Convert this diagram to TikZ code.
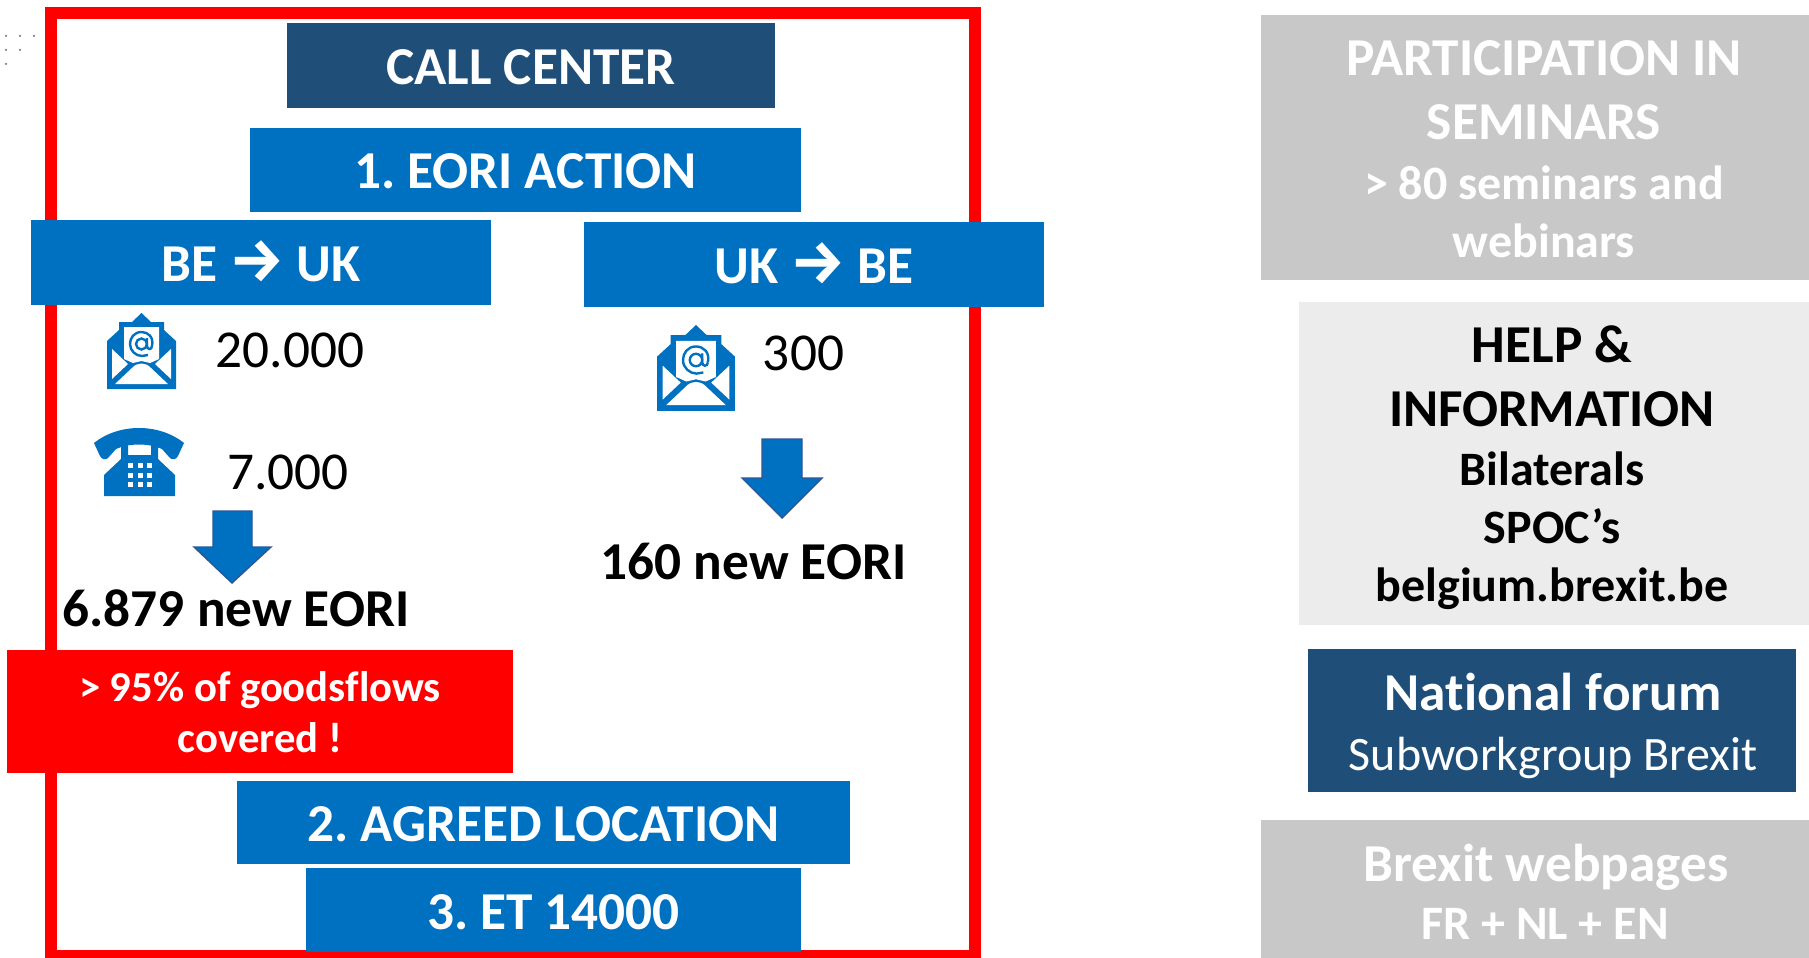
\documentclass[tikz,border=0pt]{standalone}
\usepackage{fontspec}
\setmainfont[Ligatures=NoCommon]{Carlito}
\newfontfamily\arrowfont{Fira Sans}
\definecolor{navy}{HTML}{1F4E79}
\definecolor{blue}{HTML}{0070C0}
\definecolor{gry}{HTML}{C8C8C8}
\definecolor{lgry}{HTML}{ECECEC}
\definecolor{arrowedge}{HTML}{2F5597}
\frenchspacing
\tikzset{
 box/.style={inner sep=0pt,outer sep=0pt,align=center,text=white,font=\bfseries\fontsize{53.3}{64}\selectfont},
 bigarrow/.style={fill=blue,draw=arrowedge,line width=1.4pt,line join=miter},
 num/.style={inner sep=0pt,text=black,font=\fontsize{53.3}{64}\selectfont},
 res/.style={inner sep=0pt,text=black,font=\bfseries\fontsize{53.3}{64}\selectfont},
 tdot/.style={fill=gray,circle,inner sep=0pt,minimum size=2.5pt},
}
\newcommand{\pbox}[8]{%
 \path[fill=#6] (#2,#3) rectangle (#4,#5);
 \node[box] (#1) at ({(#2+#4)/2},{(#3+#5)/2+#8}) {#7};}
\newcommand{\arr}{{\arrowfont\bfseries\fontsize{61.5}{60}\selectfont→}}
\newcommand{\mailicon}[3]{%
 \begin{scope}[shift={(#1,#2)},scale=#3]
  \fill[blue] (0,28)--(12,17)--(12,9)--(25,9)--(34.5,0)--(44,9)--(57,9)--(57,17)--(69,28)--(69,76)--(0,76)--cycle;
  \fill[white] (17,14)--(52,14)--(52,46)--(43,50)--(34.5,48)--(26,50)--(17,46)--cycle;
  \fill[white] (5,36)--(21,51)--(5,66)--cycle;
  \fill[white] (64,36)--(48,51)--(64,66)--cycle;
  \fill[white] (8,71)--(25,55) .. controls (30,49) and (39,49) .. (44,55)--(61,71)--cycle;
  \draw[blue,line width=2.4pt] (45,33) .. controls (47,24) and (41,19) .. (34.5,19) .. controls (27,19) and (23,25) .. (23,31) .. controls (23,38) and (29,43) .. (35,43) -- (41,42);
  \draw[blue,line width=2.4pt] (34.5,31) circle (5.5);
  \draw[blue,line width=2.4pt] (40,25)--(40,33) .. controls (40,37) and (45,37) .. (45,33);
 \end{scope}}
\begin{document}
\begin{tikzpicture}[x=1pt,y=-1pt]
\useasboundingbox (0,0) rectangle (1809,958);
\fill[white] (0,0) rectangle (1809,958);
\foreach \p in {(6,36),(20,36),(34,36),(6,50),(20,50),(6,64)} \node[tdot] at \p {};
\draw[red,line width=12pt] (51,13) rectangle (975,956);
\pbox{cc}{287}{23}{775}{108}{navy}{CALL CENTER}{1.5}
\pbox{eori}{250}{128}{801}{212}{blue}{1. EORI ACTION}{1.5}
\pbox{beuk}{31}{220}{491}{305}{blue}{BE \arr{} UK}{-1.5}
\pbox{ukbe}{584}{222}{1044}{307}{blue}{UK \arr{} BE}{-1.5}
\mailicon{107}{313}{1}
\mailicon{657}{325}{1.13}
\node[num,anchor=base] (n1) at (290,367) {20.000};
\node[num,anchor=base] (n2) at (288,489) {7.000};
\node[num,anchor=base] (n3) at (803.5,370) {300};
\begin{scope}[shift={(94,429)}]
 \fill[blue] (0,14) .. controls (25,-6) and (65,-6) .. (90,14) -- (84,27) .. controls (82,31) and (78,31) .. (76,29) -- (68,20) .. controls (55,14) and (35,14) .. (22,20) -- (14,29) .. controls (12,31) and (8,31) .. (6,27) -- cycle;
 \fill[blue] (10,67) -- (10,46) -- (27,30) -- (27,17) .. controls (27,12) and (34,12) .. (34,17) -- (34,26) -- (57,26) -- (57,17) .. controls (57,12) and (64,12) .. (64,17) -- (64,30) -- (81,46) -- (81,67) -- cycle;
 \foreach \i in {0,1,2} \foreach \j in {0,1,2}
  \fill[white] ({34+\i*9.5},{34+\j*9.5}) rectangle ++(5,5);
\end{scope}
\draw[bigarrow] (213,511)--(252,511)--(252,547)--(271,547)--(232,583)--(194,547)--(213,547)--cycle;
\draw[bigarrow] (762,439)--(802,439)--(802,478)--(822,478)--(782,518)--(742,478)--(762,478)--cycle;
\node[res,anchor=base] (r1) at (236,626) {6.879 new EORI};
\node[res,anchor=base] (r2) at (753.5,579) {160 new EORI};
\path[fill=red] (7,650) rectangle (513,773);
\node[box,font=\bfseries\fontsize{42.7}{51}\selectfont] (cov) at (260,712) {> 95\% of goodsflows\\covered !};
\pbox{loc}{237}{781}{850}{864}{blue}{2. AGREED LOCATION}{2}
\pbox{et}{306}{868}{801}{952}{blue}{3. ET 14000}{2}
\path[fill=gry] (1261,15) rectangle (1809,280);
\node[box,font=\bfseries\fontsize{53.3}{64}\selectfont] (sem) at (1544,90) {PARTICIPATION IN\\SEMINARS};
\node[box,font=\bfseries\fontsize{48}{58}\selectfont] (semb) at (1544,212) {> 80 seminars and\\webinars};
\path[fill=lgry] (1299,302) rectangle (1809,625);
\node[box,text=black,font=\bfseries\fontsize{53.3}{64}\selectfont] (help) at (1552,376) {HELP \&\\INFORMATION};
\node[box,text=black,font=\bfseries\fontsize{48}{58}\selectfont] (bil) at (1552,531) {Bilaterals\\SPOC’s\\belgium.brexit.be};
\path[fill=navy] (1308,649) rectangle (1796,792);
\node[box,font=\bfseries\fontsize{53.3}{64}\selectfont] (nf) at (1553,692) {National forum};
\node[box,font=\fontsize{48}{58}\selectfont] (sub) at (1553,758) {Subworkgroup Brexit};
\path[fill=gry] (1261,820) rectangle (1809,958);
\node[box,font=\bfseries\fontsize{53.3}{64}\selectfont] (web) at (1546,867) {Brexit webpages};
\node[box,font=\bfseries\fontsize{48}{58}\selectfont] (fr) at (1545,924) {FR + NL + EN};
\end{tikzpicture}
\end{document}
